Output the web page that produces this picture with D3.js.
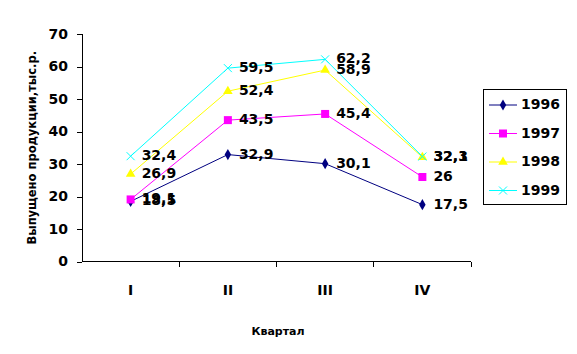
<!DOCTYPE html>
<html><head><meta charset="utf-8">
<script src="https://cdn.jsdelivr.net/npm/d3@7"></script>
<style>body{margin:0;background:#fff}svg{display:block}</style>
</head><body>
<svg id="c" width="577" height="354"></svg>
<script>
const categories = ["I", "II", "III", "IV"];
const years = ["1996", "1997", "1998", "1999"];
const v1996 = [18.5, 32.9, 30.1, 17.5];
const v1997 = [19.1, 43.5, 45.4, 26];
const v1998 = [26.9, 52.4, 58.9, 32.1];
const v1999 = [32.4, 59.5, 62.2, 32.3];
const yTicks = [0, 10, 20, 30, 40, 50, 60, 70];
const colors = ["#000080", "#FF00FF", "#FFFF00", "#00FFFF"];
const shapes = ["diamond", "square", "triangle", "x"];
const series = [v1996, v1997, v1998, v1999];

const svg = d3.select("#c");
const font = "'DejaVu Sans', Verdana, sans-serif";
const x = d3.scaleBand().domain(categories).range([82, 471]);
const y = d3.scaleLinear().domain([0, 70]).range([261.5, 34]);

// Y axis
const ya = svg.append("g").attr("transform", "translate(82,0)")
  .call(d3.axisLeft(y).tickValues(yTicks).tickSize(5).tickPadding(9).tickFormat(d3.format("d")));
ya.selectAll("path,line").attr("stroke", "#000").attr("shape-rendering", "crispEdges");
ya.select(".domain").attr("d", "M-5," + y(70) + "H0V" + y(0));
ya.selectAll("text").attr("font-family", font).attr("font-weight", "bold").attr("font-size", 14).attr("fill", "#000");

// X axis
const xa = svg.append("g").attr("transform", "translate(0," + y(0) + ")")
  .call(d3.axisBottom(x).tickSize(0).tickPadding(24));
xa.select(".domain").attr("stroke", "#000").attr("shape-rendering", "crispEdges").attr("d", "M82,0H471");
xa.selectAll("text").attr("font-family", font).attr("font-weight", "bold").attr("font-size", 14).attr("fill", "#000");
const bounds = categories.map(c => x(c) + x.bandwidth());
xa.selectAll(".tb").data(bounds).enter().append("line").attr("class", "tb")
  .attr("x1", d => d).attr("x2", d => d).attr("y1", 0).attr("y2", 5)
  .attr("stroke", "#000").attr("shape-rendering", "crispEdges");

// axis titles
svg.append("text").attr("transform", "translate(36," + ((y(0) + y(70)) / 2) + ") rotate(-90)")
  .attr("text-anchor", "middle").attr("font-family", font).attr("font-weight", "bold")
  .attr("font-size", 11.5).text("Выпущено продукции,тыс.р.");
svg.append("text").attr("x", 278).attr("y", 332).attr("dominant-baseline", "middle")
  .attr("text-anchor", "middle").attr("font-family", font).attr("font-weight", "bold")
  .attr("font-size", 11).text("Квартал");

function marker(g, shape, color, cx, cy) {
  if (shape === "diamond") {
    g.append("path").attr("d", d3.symbol(d3.symbolDiamond, 36)()).attr("transform", `translate(${cx},${cy})`).attr("fill", color);
  } else if (shape === "square") {
    g.append("rect").attr("x", cx - 4).attr("y", cy - 4).attr("width", 8).attr("height", 8).attr("fill", color);
  } else if (shape === "triangle") {
    g.append("path").attr("d", d3.symbol(d3.symbolTriangle, 40)()).attr("transform", `translate(${cx},${cy})`).attr("fill", color);
  } else {
    g.append("path").attr("d", `M${cx-4},${cy-4}L${cx+4},${cy+4}M${cx-4},${cy+4}L${cx+4},${cy-4}`).attr("stroke", color).attr("stroke-width", 1);
  }
}

const line = d3.line().x((d, i) => x(categories[i]) + x.bandwidth() / 2).y(d => y(d));
const fmt = v => String(v).replace(".", ",");

series.forEach((vals, si) => {
  const g = svg.append("g");
  g.append("path").datum(vals).attr("d", line).attr("fill", "none").attr("stroke", colors[si]).attr("stroke-width", 1);
  vals.forEach((v, i) => marker(g, shapes[si], colors[si], x(categories[i]) + x.bandwidth() / 2, y(v)));
});
// labels on top
series.forEach((vals, si) => {
  vals.forEach((v, i) => {
    svg.append("text").attr("x", x(categories[i]) + x.bandwidth() / 2 + 11).attr("y", y(v))
      .attr("dominant-baseline", "middle").attr("font-family", font).attr("font-weight", "bold")
      .attr("font-size", 14).attr("fill", "#000").text(fmt(v));
  });
});

// legend
const lg = svg.append("g");
lg.append("rect").attr("x", 483.5).attr("y", 89.5).attr("width", 83).attr("height", 115)
  .attr("fill", "#fff").attr("stroke", "#000");
years.forEach((yr, i) => {
  const ly = 105 + i * 28.5;
  lg.append("line").attr("x1", 489).attr("x2", 517).attr("y1", ly).attr("y2", ly).attr("stroke", colors[i]);
  marker(lg, shapes[i], colors[i], 503, ly);
  lg.append("text").attr("x", 521).attr("y", ly).attr("dominant-baseline", "middle")
    .attr("font-family", font).attr("font-weight", "bold").attr("font-size", 14).text(yr);
});
</script>
</body></html>
